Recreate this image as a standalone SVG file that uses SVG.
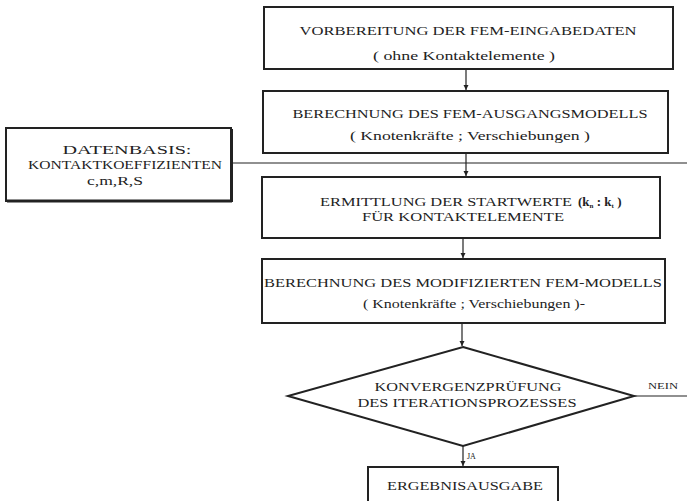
<svg xmlns="http://www.w3.org/2000/svg" width="687" height="501" viewBox="0 0 687 501">
<defs>
<marker id="ah" markerWidth="6" markerHeight="6" refX="5" refY="3" orient="auto" markerUnits="userSpaceOnUse">
<path d="M0,0.5 L5,3 L0,5.5 Z" fill="#222"/>
</marker>
<style>
.box{fill:#fff;stroke:#222;stroke-width:2}
.t{font-family:"Liberation Serif","Times New Roman",serif;font-size:13px;fill:#222;text-anchor:middle}
.l{font-size:12px}
.s{font-family:"Liberation Serif","Times New Roman",serif;font-size:9px;fill:#222}
.ln{stroke:#222;stroke-width:1.2;fill:none}
</style>
</defs>
<rect width="687" height="501" fill="#fff"/>
<g id="connectors">
<line class="ln" x1="232" y1="163" x2="687" y2="163"/>
<line class="ln" x1="634" y1="396" x2="687" y2="396"/>
<line class="ln" x1="466" y1="69" x2="466" y2="90" marker-end="url(#ah)"/>
<line class="ln" x1="466" y1="153" x2="466" y2="176" marker-end="url(#ah)"/>
<line class="ln" x1="463" y1="238" x2="463" y2="258" marker-end="url(#ah)"/>
<line class="ln" x1="462" y1="323" x2="462" y2="346" marker-end="url(#ah)"/>
<line class="ln" x1="463" y1="446" x2="463" y2="466" marker-end="url(#ah)"/>
<text class="s" x="648" y="389" textLength="30" lengthAdjust="spacingAndGlyphs">NEIN</text>
<text class="s" x="467" y="459" style="font-size:8px">JA</text>
</g>
<g id="n1">
<rect class="box" x="264" y="7" width="409" height="62"/>
<text class="t" x="468" y="35" textLength="337" lengthAdjust="spacingAndGlyphs">VORBEREITUNG DER FEM-EINGABEDATEN</text>
<text class="t" x="464" y="60" textLength="182" lengthAdjust="spacingAndGlyphs">( ohne Kontaktelemente )</text>
</g>
<g id="n2">
<rect class="box" x="263" y="91" width="405" height="62"/>
<text class="t" x="470" y="118" textLength="355" lengthAdjust="spacingAndGlyphs">BERECHNUNG DES FEM-AUSGANGSMODELLS</text>
<text class="t" x="470" y="140" textLength="240" lengthAdjust="spacingAndGlyphs">( Knotenkräfte ; Verschiebungen )</text>
</g>
<g id="datenbasis">
<rect class="box" x="6" y="128" width="225" height="73"/>
<line x1="7" y1="201" x2="232" y2="201" stroke="#222" stroke-width="3"/>
<line x1="232" y1="129" x2="232" y2="202" stroke="#222" stroke-width="2"/>
<text class="t l" x="127" y="154" textLength="129" lengthAdjust="spacingAndGlyphs">DATENBASIS:</text>
<text class="t l" x="125" y="169" textLength="194" lengthAdjust="spacingAndGlyphs">KONTAKTKOEFFIZIENTEN</text>
<text class="t l" x="115" y="185" textLength="56" lengthAdjust="spacingAndGlyphs">c,m,R,S</text>
</g>
<g id="n3">
<rect class="box" x="262" y="177" width="398" height="61"/>
<text class="t" x="446" y="206" textLength="252" lengthAdjust="spacingAndGlyphs">ERMITTLUNG DER STARTWERTE</text>
<text class="t" x="578" y="206" style="text-anchor:start;font-weight:bold">(k<tspan dy="2" font-size="7">n</tspan><tspan dy="-2"> : k</tspan><tspan dy="2" font-size="7">t</tspan><tspan dy="-2"> )</tspan></text>
<text class="t" x="463" y="221" textLength="202" lengthAdjust="spacingAndGlyphs">FÜR KONTAKTELEMENTE</text>
</g>
<g id="n4">
<rect class="box" x="262" y="259" width="403" height="64"/>
<text class="t" x="463" y="287" textLength="398" lengthAdjust="spacingAndGlyphs">BERECHNUNG DES MODIFIZIERTEN FEM-MODELLS</text>
<text class="t" x="474" y="308" textLength="222" lengthAdjust="spacingAndGlyphs">( Knotenkräfte ; Verschiebungen )-</text>
</g>
<g id="decision">
<polygon class="box" points="463,347 634,396 463,446 288,396"/>
<text class="t" x="468" y="391" textLength="187" lengthAdjust="spacingAndGlyphs">KONVERGENZPRÜFUNG</text>
<text class="t" x="467" y="407" textLength="219" lengthAdjust="spacingAndGlyphs">DES ITERATIONSPROZESSES</text>
</g>
<g id="n5">
<rect class="box" x="368" y="467" width="190" height="50"/>
<text class="t" x="465" y="490" textLength="156" lengthAdjust="spacingAndGlyphs">ERGEBNISAUSGABE</text>
</g>
</svg>
